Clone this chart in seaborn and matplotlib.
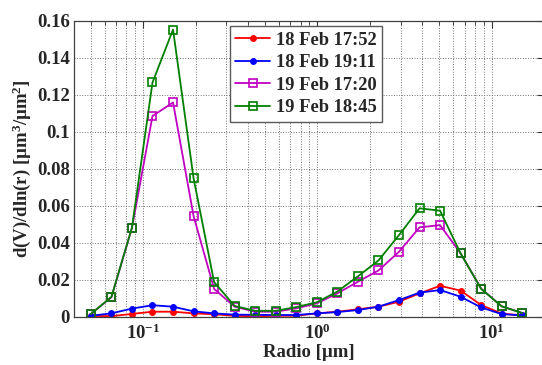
import numpy as np
import pandas as pd
import seaborn as sns
import matplotlib.pyplot as plt
from matplotlib.ticker import LogLocator, FixedLocator, NullFormatter

# AERONET-style size bins (radius, um)
radius = [0.050, 0.065604, 0.086077, 0.112939, 0.148184, 0.194429, 0.255105,
          0.334716, 0.439173, 0.576227, 0.756052, 0.991996, 1.301571, 1.707757,
          2.240702, 2.939966, 3.857452, 5.061260, 6.640745, 8.713145, 11.432287, 15.0]

feb18_1752 = [0.0004, 0.0003, 0.0015, 0.0027, 0.0027, 0.0018, 0.0013, 0.0005, 0.0002, 0.0005, 0.0005,
              0.0018, 0.0027, 0.0040, 0.0054, 0.0081, 0.0126, 0.0167, 0.0141, 0.0063, 0.0017, 0.0007]
feb18_1911 = [0.0005, 0.0018, 0.0044, 0.0062, 0.0054, 0.0029, 0.0018, 0.0011, 0.0010, 0.0009, 0.0009,
              0.0018, 0.0025, 0.0036, 0.0054, 0.0090, 0.0130, 0.0144, 0.0108, 0.0050, 0.0014, 0.0007]
feb19_1720 = [0.0015, 0.0105, 0.0480, 0.1085, 0.1158, 0.0544, 0.0150, 0.0054, 0.0027, 0.0027, 0.0045,
              0.0072, 0.0126, 0.0189, 0.0250, 0.0351, 0.0483, 0.0495, 0.0342, 0.0152, 0.0056, 0.0020]
feb19_1845 = [0.0015, 0.0107, 0.0482, 0.1266, 0.1552, 0.0748, 0.0187, 0.0058, 0.0032, 0.0032, 0.0052,
              0.0078, 0.0136, 0.0218, 0.0304, 0.0441, 0.0586, 0.0573, 0.0342, 0.0150, 0.0056, 0.0020]

labels = ["18 Feb 17:52", "18 Feb 19:11", "19 Feb 17:20", "19 Feb 18:45"]
colors = ["#ff0000", "#0000ff", "#c000c0", "#007f00"]

df = pd.DataFrame({
    "radius": radius * 4,
    "dv": feb18_1752 + feb18_1911 + feb19_1720 + feb19_1845,
    "date": np.repeat(labels, len(radius)),
})

sns.set_style("white")
plt.rcParams["font.family"] = ["Liberation Serif", "DejaVu Serif"]
plt.rcParams["font.weight"] = "bold"
plt.rcParams["mathtext.fontset"] = "custom"
plt.rcParams["mathtext.rm"] = "Liberation Serif:bold"
plt.rcParams["mathtext.bf"] = "Liberation Serif:bold"
plt.rcParams["mathtext.it"] = "Liberation Serif:bold"
plt.rcParams["mathtext.default"] = "bf"

fig = plt.figure(figsize=(5.42, 3.65), dpi=100)
ax = fig.add_axes([74 / 542, 48.3 / 365, 470 / 542, 296 / 365])

for lab, col in zip(labels, colors):
    sub = df[df["date"] == lab]
    if lab.startswith("18"):
        sns.lineplot(data=sub, x="radius", y="dv", ax=ax, color=col, marker="o",
                     markersize=4.2, markeredgecolor=col, linewidth=1.3, label=lab)
    else:
        sns.lineplot(data=sub, x="radius", y="dv", ax=ax, color=col, marker="s",
                     markersize=5.8, markerfacecolor="none", markeredgecolor=col,
                     markeredgewidth=1.2, linewidth=1.3, label=lab)

ax.set_xscale("log")
ax.set_xlim(0.04, 20)
ax.set_ylim(0, 0.16)
ax.yaxis.set_major_locator(FixedLocator(np.arange(0, 0.161, 0.02)))
ax.set_yticklabels(["0", "0.02", "0.04", "0.06", "0.08", "0.1", "0.12", "0.14", "0.16"])
ax.xaxis.set_major_locator(FixedLocator([0.1, 1, 10]))
ax.set_xticklabels([r"$10^{-1}$", r"$10^{0}$", r"$10^{1}$"])
ax.xaxis.set_minor_locator(LogLocator(base=10, subs=np.arange(2, 10)))
ax.xaxis.set_minor_formatter(NullFormatter())

ax.grid(True, which="major", axis="both", linestyle=":", color="0.45", linewidth=0.7)
ax.grid(True, which="minor", axis="x", linestyle=":", color="0.45", linewidth=0.7)
ax.tick_params(which="both", direction="in", top=True, right=True, labelsize=13.5, color="0.2")
ax.tick_params(which="major", length=5)
ax.tick_params(which="minor", length=3)
ax.tick_params(axis="y", pad=3)
ax.tick_params(axis="x", pad=5)
for s in ax.spines.values():
    s.set_color("0.25")
    s.set_linewidth(0.9)

ax.set_xlabel("Radio [µm]", fontsize=13.5, fontweight="bold", labelpad=1)
ax.set_ylabel(r"d(V)/dln(r) [µm$^3$/µm$^2$]", fontsize=13.5, fontweight="bold", labelpad=3)

leg = ax.legend(loc="upper left", bbox_to_anchor=(0.331, 0.982), borderaxespad=0,
                fontsize=13.3, frameon=True, fancybox=False, framealpha=1,
                edgecolor="0.35", handlelength=1.9, handletextpad=0.3,
                labelspacing=0.3, borderpad=0.3)
leg.get_frame().set_linewidth(1.0)

fig.savefig("out.png", dpi=100)
